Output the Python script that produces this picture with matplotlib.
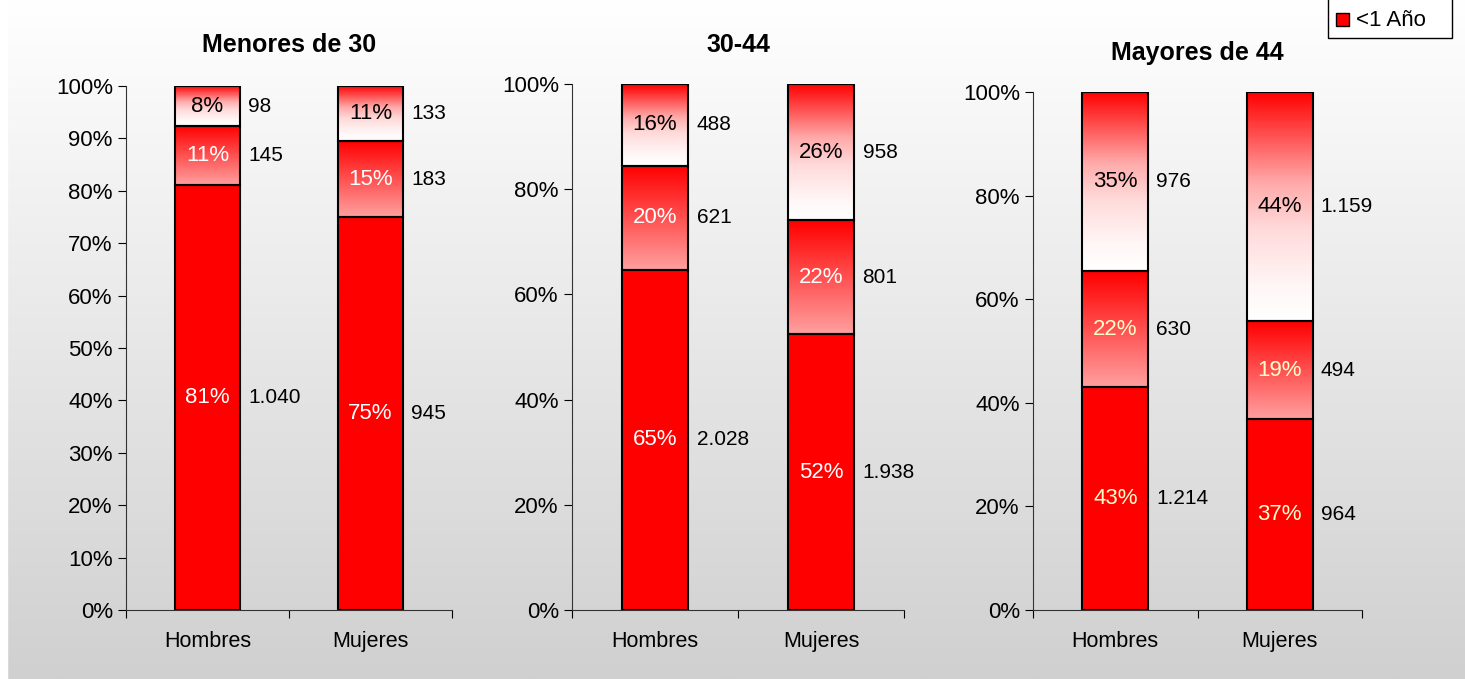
import numpy as np
import matplotlib
matplotlib.use("Agg")
import matplotlib.pyplot as plt
from matplotlib.colors import LinearSegmentedColormap
from matplotlib.patches import Rectangle

plt.rcParams['font.family'] = ['Liberation Sans', 'DejaVu Sans']

# datos
grupos = ['Menores de 30', '30-44', 'Mayores de 44']
sexos = ['Hombres', 'Mujeres']
# segmentos: abajo, medio, arriba (conteos)
hombres = [[1040, 145, 98], [2028, 621, 488], [1214, 630, 976]]
mujeres = [[945, 183, 133], [1938, 801, 958], [964, 494, 1159]]

W, H = 1465, 679
fig = plt.figure(figsize=(W / 100, H / 100), dpi=100)

# fondo degradado
bg = fig.add_axes([0, 0, 1, 1], zorder=-10)
grad = np.linspace(1, 0, 256).reshape(-1, 1)
bg_cmap = LinearSegmentedColormap.from_list('bg', ['#d0d0d0', '#ffffff'])
bg.imshow(grad, cmap=bg_cmap, aspect='auto', extent=[0, 1, 0, 1], vmin=0, vmax=1)
bg.add_patch(Rectangle((0, 0), 7 / W, 1, color='white'))
bg.set_xlim(0, 1)
bg.set_ylim(0, 1)
bg.axis('off')

cm_top = LinearSegmentedColormap.from_list(
    'top', [(0, '#ffffff'), (0.15, '#fff6f6'), (0.4, '#ffdada'), (0.6, '#ffaaaa'), (1, '#ff0000')])
cm_mid = LinearSegmentedColormap.from_list('mid', ['#ffa0a0', '#ff0000'])

# posiciones de los ejes (pixeles)
paneles = [(126, 452, 86), (572, 904, 84), (1033, 1362, 92)]
titulos_y = [45, 45, 53]
ticks_y = [np.arange(0, 1.01, 0.1), np.arange(0, 1.01, 0.2), np.arange(0, 1.01, 0.2)]
color_lbl = ['white', 'white', '#ffffcc']

ancho = 0.4


def barra_grad(ax, x, y0, y1, cmap):
    g = np.linspace(0, 1, 200).reshape(-1, 1)
    ax.imshow(g, cmap=cmap, aspect='auto', origin='lower',
              extent=[x - ancho / 2, x + ancho / 2, y0, y1], zorder=2)


for k, g in enumerate(grupos):
    l, r, t = paneles[k]
    ax = fig.add_axes([l / W, (H - 610) / H, (r - l) / W, (610 - t) / H])
    ax.set_facecolor('none')
    for i, vals in enumerate([hombres[k], mujeres[k]]):
        tot = sum(vals)
        fr = [v / tot for v in vals]
        b0 = 0
        for j, f in enumerate(fr):
            b1 = b0 + f
            if j == 0:
                ax.add_patch(Rectangle((i - ancho / 2, b0), ancho, f, facecolor='#ff0000', zorder=2))
            elif j == 1:
                barra_grad(ax, i, b0, b1, cm_mid)
            else:
                barra_grad(ax, i, b0, b1, cm_top)
            ax.add_patch(Rectangle((i - ancho / 2, b0), ancho, f, facecolor='none',
                                   edgecolor='black', lw=1.5, zorder=3))
            c = 'black' if j == 2 else color_lbl[k]
            ax.text(i, b0 + f / 2, '%d%%' % round(f * 100), ha='center', va='center',
                    fontsize=16, color=c, zorder=4)
            ax.text(i + ancho / 2 + 0.05, b0 + f / 2, f'{vals[j]:,}'.replace(',', '.'),
                    ha='left', va='center', fontsize=15, color='black', zorder=4)
            b0 = b1
    ax.set_xlim(-0.5, 1.5)
    ax.set_ylim(0, 1)
    ax.set_yticks(ticks_y[k])
    ax.set_yticklabels(['%d%%' % round(v * 100) for v in ticks_y[k]], fontsize=16)
    ax.set_xticks([-0.5, 0.5, 1.5])
    ax.set_xticklabels([])
    ax.set_xticks([0, 1], minor=True)
    ax.set_xticklabels(sexos, minor=True, fontsize=15.5)
    ax.tick_params(axis='x', which='minor', length=0, pad=15)
    ax.tick_params(axis='x', which='major', length=6)
    ax.tick_params(axis='y', length=6)
    for s in ['top', 'right']:
        ax.spines[s].set_visible(False)
    ax.spines['left'].set_color('#333333')
    ax.spines['bottom'].set_color('#333333')
    fig.text((l + r) / 2 / W, 1 - titulos_y[k] / H, g, ha='center', va='center',
             fontsize=18, fontweight='bold')

# leyenda
fig.patches.append(Rectangle((1328 / W, 1 - 38 / H), 124 / W, 40 / H, transform=fig.transFigure,
                             facecolor='white', edgecolor='black', lw=1, figure=fig))
fig.patches.append(Rectangle((1336 / W, 1 - 26 / H), 13 / W, 13 / H, transform=fig.transFigure,
                             facecolor='#ff0000', edgecolor='black', lw=1, figure=fig))
fig.text(1356 / W, 1 - 20 / H, '<1 Año', ha='left', va='center', fontsize=16)

fig.savefig('out.png', dpi=100)
